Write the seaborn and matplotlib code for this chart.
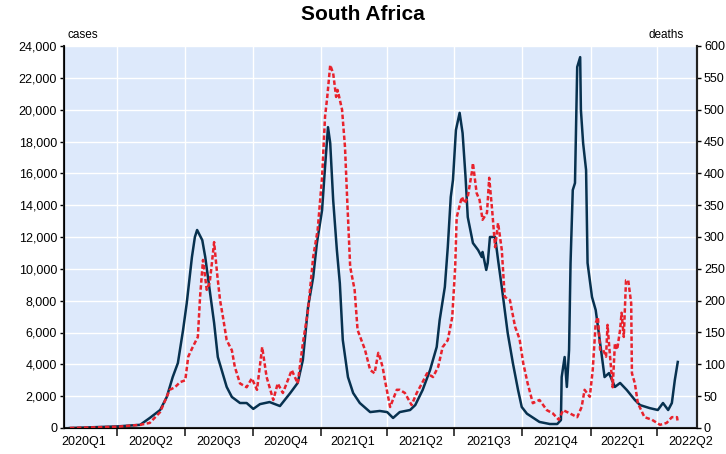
import matplotlib
matplotlib.use("Agg")
import matplotlib.pyplot as plt
import pandas as pd
import seaborn as sns

# daily new cases, 7-day average (left axis)
case_dates = [
    "2020-01-28", "2020-04-01", "2020-05-02", "2020-05-15", "2020-05-29", "2020-06-07",
    "2020-06-15", "2020-06-22", "2020-06-29", "2020-07-04", "2020-07-11", "2020-07-15",
    "2020-07-18", "2020-07-25", "2020-07-29", "2020-08-04", "2020-08-10", "2020-08-15",
    "2020-08-21", "2020-08-27", "2020-09-03", "2020-09-14", "2020-09-23", "2020-10-02",
    "2020-10-11", "2020-10-24", "2020-11-07", "2020-11-21", "2020-12-01", "2020-12-08",
    "2020-12-15", "2020-12-22", "2020-12-27", "2021-01-03", "2021-01-07", "2021-01-11",
    "2021-01-14", "2021-01-18", "2021-01-23", "2021-01-27", "2021-01-31", "2021-02-07",
    "2021-02-14", "2021-02-23", "2021-03-09", "2021-03-22", "2021-04-01", "2021-04-09",
    "2021-04-18", "2021-05-02", "2021-05-09", "2021-05-19", "2021-05-29", "2021-06-07",
    "2021-06-11", "2021-06-18", "2021-06-22", "2021-06-26", "2021-06-29", "2021-07-03",
    "2021-07-08", "2021-07-12", "2021-07-16", "2021-07-19", "2021-07-26", "2021-08-02",
    "2021-08-07", "2021-08-08", "2021-08-13", "2021-08-15", "2021-08-18", "2021-08-25",
    "2021-08-29", "2021-09-03", "2021-09-07", "2021-09-11", "2021-09-18", "2021-09-25",
    "2021-09-30", "2021-10-07", "2021-10-24", "2021-11-07", "2021-11-17", "2021-11-22",
    "2021-11-23", "2021-11-27", "2021-11-30", "2021-12-03", "2021-12-05", "2021-12-08",
    "2021-12-11", "2021-12-14", "2021-12-18", "2021-12-19", "2021-12-22", "2021-12-26",
    "2021-12-28", "2022-01-03", "2022-01-08", "2022-01-14", "2022-01-20", "2022-01-26",
    "2022-02-03", "2022-02-10", "2022-02-19", "2022-03-02", "2022-03-09", "2022-03-22",
    "2022-04-02", "2022-04-09", "2022-04-16", "2022-04-21", "2022-04-25", "2022-04-29",
]
case_values = [
    0, 100, 200, 630, 1130, 1950,
    3200, 4080, 6150, 7850, 10740, 12000,
    12440, 11800, 10740, 8670, 6600, 4460,
    3520, 2580, 1950, 1570, 1570, 1200,
    1500, 1630, 1380, 2200, 2830, 4270,
    7600, 9480, 11620, 13690, 16400, 18900,
    17900, 14320, 11180, 9100, 5530, 3200,
    2200, 1570, 1000, 1070, 1000, 630,
    1000, 1130, 1440, 2390, 3640, 5090,
    6780, 8860, 11370, 14510, 15580, 18720,
    19800, 18530, 15770, 13250, 11620, 11180,
    10740, 11060, 9930, 10370, 12000, 12000,
    10550, 8860, 7410, 5970, 4080, 2390,
    1320, 900, 380, 250, 250, 500,
    3200, 4460, 2580, 4900, 10370, 14950,
    15390, 22680, 23300, 19980, 17900, 16210,
    10370, 8230, 7410, 5340, 3200, 3450,
    2580, 2830, 2390, 1760, 1440, 1250,
    1130, 1570, 1130, 1570, 3010, 4150,
]

# daily deaths, 7-day average (right axis)
death_dates = [
    "2020-01-28", "2020-04-01", "2020-05-02", "2020-05-15", "2020-05-29", "2020-06-11",
    "2020-06-18", "2020-06-25", "2020-07-02", "2020-07-06", "2020-07-12", "2020-07-19",
    "2020-07-22", "2020-07-26", "2020-07-31", "2020-08-04", "2020-08-07", "2020-08-10",
    "2020-08-14", "2020-08-18", "2020-08-22", "2020-08-27", "2020-09-03", "2020-09-07",
    "2020-09-14", "2020-09-23", "2020-09-30", "2020-10-07", "2020-10-14", "2020-10-20",
    "2020-10-29", "2020-11-04", "2020-11-11", "2020-11-23", "2020-12-01", "2020-12-08",
    "2020-12-15", "2020-12-22", "2020-12-28", "2021-01-03", "2021-01-07", "2021-01-10",
    "2021-01-14", "2021-01-18", "2021-01-22", "2021-01-24", "2021-01-30", "2021-02-03",
    "2021-02-06", "2021-02-10", "2021-02-16", "2021-02-20", "2021-03-02", "2021-03-09",
    "2021-03-15", "2021-03-20", "2021-03-22", "2021-03-26", "2021-03-29", "2021-04-05",
    "2021-04-14", "2021-04-18", "2021-04-25", "2021-05-04", "2021-05-11", "2021-05-18",
    "2021-05-25", "2021-06-02", "2021-06-09", "2021-06-15", "2021-06-22", "2021-06-28",
    "2021-07-02", "2021-07-04", "2021-07-11", "2021-07-15", "2021-07-19", "2021-07-25",
    "2021-07-26", "2021-07-31", "2021-08-04", "2021-08-08", "2021-08-14", "2021-08-17",
    "2021-08-21", "2021-08-25", "2021-08-29", "2021-09-03", "2021-09-07", "2021-09-14",
    "2021-09-21", "2021-09-27", "2021-10-02", "2021-10-08", "2021-10-15", "2021-10-24",
    "2021-11-03", "2021-11-11", "2021-11-19", "2021-11-25", "2021-12-04", "2021-12-14",
    "2021-12-20", "2021-12-24", "2021-12-31", "2022-01-04", "2022-01-08", "2022-01-11",
    "2022-01-14", "2022-01-18", "2022-01-22", "2022-01-24", "2022-01-27", "2022-01-31",
    "2022-02-03", "2022-02-06", "2022-02-10", "2022-02-12", "2022-02-15", "2022-02-18",
    "2022-02-21", "2022-02-25", "2022-02-26", "2022-03-02", "2022-03-06", "2022-03-15",
    "2022-03-25", "2022-04-05", "2022-04-14", "2022-04-21", "2022-04-28", "2022-04-29",
]
death_values = [
    0, 2, 5, 8, 25, 60,
    64, 72, 75, 112, 127, 143,
    206, 264, 217, 228, 259, 292,
    243, 201, 174, 138, 122, 96,
    70, 64, 78, 60, 127, 80,
    44, 70, 55, 91, 70, 133,
    185, 269, 311, 394, 489, 520,
    570, 557, 520, 531, 500, 441,
    358, 253, 217, 154, 123, 91,
    86, 118, 112, 95, 75, 33,
    60, 60, 55, 36, 55, 70,
    86, 80, 96, 127, 138, 174,
    253, 331, 363, 353, 363, 405,
    416, 369, 358, 327, 338, 393,
    342, 284, 322, 280, 206, 201,
    159, 140, 102, 70, 39, 44,
    28, 23, 13, 28, 23, 17,
    33, 60, 49, 91, 165, 174,
    123, 123, 112, 162, 118, 64,
    133, 123, 154, 181, 143, 232,
    232, 196, 86, 70, 39, 17,
    13, 5, 8, 17, 17, 9,
]

quarter_starts = [
    "2020-04-01", "2020-07-01", "2020-10-01", "2021-01-01", "2021-04-01",
    "2021-07-01", "2021-10-01", "2022-01-01", "2022-04-01",
]
quarter_mids = [
    "2020-02-15", "2020-05-16", "2020-08-16", "2020-11-15", "2021-02-14",
    "2021-05-16", "2021-08-16", "2021-11-15", "2022-02-14", "2022-05-16",
]
quarter_labels = [
    "2020Q1", "2020Q2", "2020Q3", "2020Q4", "2021Q1",
    "2021Q2", "2021Q3", "2021Q4", "2022Q1", "2022Q2",
]

cases = pd.DataFrame({"date": pd.to_datetime(case_dates), "cases": case_values})
deaths = pd.DataFrame({"date": pd.to_datetime(death_dates), "deaths": death_values})

plt.rcParams["font.family"] = ["Liberation Sans", "DejaVu Sans"]

x_range = (pd.Timestamp("2020-01-20"), pd.Timestamp("2022-05-25"))

fig = plt.figure(figsize=(7.26, 4.54), dpi=100)
ax = fig.add_axes([64 / 726, 1 - 428 / 454, 633 / 726, 382 / 454])
ax.set_facecolor("#dde9fb")

sns.lineplot(data=cases, x="date", y="cases", ax=ax, color="#07314f", linewidth=1.8)
ax.set_xlim(*x_range)
ax.set_ylim(0, 24000)
ax.set_yticks(range(0, 24001, 2000))
ax.set_yticklabels([f"{v:,}" for v in range(0, 24001, 2000)], fontsize=9)
ax.set_xticks(pd.to_datetime(quarter_starts))
ax.set_xticklabels([])
ax.set_xticks(pd.to_datetime(quarter_mids), minor=True)
ax.set_xticklabels(quarter_labels, minor=True, fontsize=9)
ax.tick_params(axis="x", which="major", length=6, width=1.2, color="#222222")
ax.tick_params(axis="x", which="minor", length=0, pad=6)
ax.tick_params(axis="y", length=3, width=1, pad=2)
ax.grid(True, which="major", color="white", linewidth=1)
ax.set_axisbelow(True)
ax.set_xlabel("")
ax.set_ylabel("")
ax.spines["top"].set_visible(False)
for side in ["left", "bottom", "right"]:
    ax.spines[side].set_color("#222222")
    ax.spines[side].set_linewidth(1.5)

ax2 = ax.twinx()
sns.lineplot(data=deaths, x="date", y="deaths", ax=ax2, color="#e8222c",
             linewidth=1.8, linestyle=(0, (1.8, 1.0)))
ax2.set_ylim(0, 600)
ax2.set_yticks(range(0, 601, 50))
ax2.set_yticklabels([str(v) for v in range(0, 601, 50)], fontsize=9)
ax2.tick_params(axis="y", length=3, width=1, pad=2)
ax2.set_ylabel("")
ax2.spines["top"].set_visible(False)
ax2.spines["right"].set_color("#222222")
ax2.spines["right"].set_linewidth(1.5)
ax2.set_xlim(*x_range)

ax.text(0.005, 1.012, "cases", transform=ax.transAxes, fontsize=8.5, ha="left", va="bottom")
ax.text(0.979, 1.012, "deaths", transform=ax.transAxes, fontsize=8.5, ha="right", va="bottom")
fig.suptitle("South Africa", fontsize=15, fontweight="bold", y=0.99)

fig.savefig("out.png", dpi=100)
